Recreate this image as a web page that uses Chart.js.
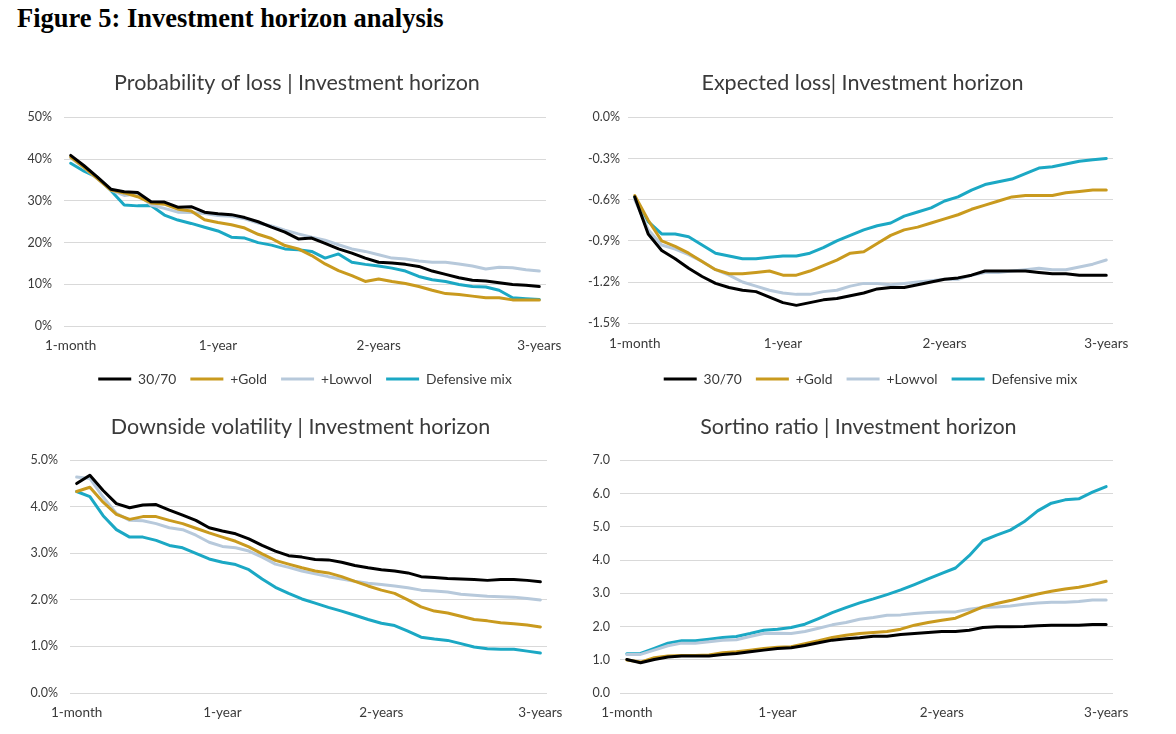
<!DOCTYPE html>
<html>
<head>
<meta charset="utf-8">
<script src="https://cdn.jsdelivr.net/npm/chart.js@4.4.1/dist/chart.umd.min.js"></script>
<style>
    body { margin: 0; background: #fff; width: 1176px; height: 734px; overflow: hidden; position: relative; }
    h1 { position: absolute; left: 17px; top: 5px; margin: 0; font: bold 26.5px/26px "Liberation Serif", "DejaVu Serif", serif; color: #000; }
    canvas { position: absolute; }
</style>
</head>
<body>
<h1>Figure 5: Investment horizon analysis</h1>
<canvas id="probLoss" width="575" height="340" style="left:0;top:60px"></canvas>
<canvas id="expLoss" width="590" height="340" style="left:575px;top:60px"></canvas>
<canvas id="downVol" width="575" height="334" style="left:0;top:400px"></canvas>
<canvas id="sortino" width="590" height="334" style="left:575px;top:400px"></canvas>
<script>
/* horizon in months, only four of them get a tick label */
const months = [1, 2, 3, 4, 5, 6, 7, 8, 9, 10, 11, 12, 13, 14, 15, 16, 17, 18,
    19, 20, 21, 22, 23, 24, 25, 26, 27, 28, 29, 30, 31, 32, 33, 34, 35, 36];
const tickMonths = [1, 12, 24, 36];
const tickLabels = ['1-month', '1-year', '2-years', '3-years'];

const seriesNames = ['30/70', '+Gold', '+Lowvol', 'Defensive mix'];
const seriesColors = ['#000000', '#C99A1E', '#B7C9DB', '#1BA8C4'];

/* probability of loss, % */
const probLoss3070 = [40.9, 38.4, 35.7, 32.8, 32.2, 32.0, 29.8, 29.7, 28.5, 28.6, 27.3, 26.9, 26.7, 26.0, 25.0, 23.7, 22.5, 20.9,
    21.1, 19.8, 18.5, 17.5, 16.3, 15.3, 15.1, 14.8, 14.3, 13.2, 12.4, 11.6, 11.0, 10.8, 10.4, 10.0, 9.8, 9.5];
const probLossGold = [40.5, 38.0, 35.3, 32.6, 31.9, 31.0, 29.5, 29.2, 28.0, 27.6, 25.5, 24.8, 24.3, 23.5, 22.0, 21.0, 19.3, 18.5,
    16.9, 14.9, 13.3, 12.1, 10.7, 11.3, 10.7, 10.2, 9.5, 8.6, 7.8, 7.6, 7.2, 6.8, 6.8, 6.3, 6.3, 6.3];
const probLossLowvol = [40.3, 37.9, 35.3, 32.6, 31.3, 31.7, 29.0, 28.2, 27.3, 27.2, 27.0, 26.5, 26.3, 25.7, 24.7, 24.0, 23.0, 22.1,
    21.3, 20.6, 19.5, 18.5, 17.9, 17.1, 16.3, 16.1, 15.6, 15.3, 15.3, 14.9, 14.4, 13.7, 14.1, 14.0, 13.5, 13.2];
const probLossDef = [39.0, 37.1, 35.6, 32.5, 29.0, 28.8, 28.9, 26.6, 25.4, 24.6, 23.7, 22.8, 21.3, 21.1, 20.0, 19.4, 18.5, 18.3,
    17.9, 16.3, 17.3, 15.3, 14.8, 14.4, 13.9, 13.2, 11.9, 11.1, 10.7, 10.0, 9.5, 9.4, 8.6, 6.8, 6.6, 6.4];

/* expected loss, % */
const expLoss3070 = [-0.58, -0.85, -0.97, -1.03, -1.10, -1.16, -1.21, -1.24, -1.26, -1.27, -1.31, -1.35, -1.37, -1.35, -1.33, -1.32, -1.30, -1.28,
    -1.25, -1.24, -1.24, -1.22, -1.20, -1.18, -1.17, -1.15, -1.12, -1.12, -1.12, -1.12, -1.13, -1.14, -1.14, -1.15, -1.15, -1.15];
const expLossGold = [-0.57, -0.75, -0.90, -0.94, -0.99, -1.05, -1.11, -1.14, -1.14, -1.13, -1.12, -1.15, -1.15, -1.12, -1.08, -1.04, -0.99, -0.98,
    -0.92, -0.86, -0.82, -0.80, -0.77, -0.74, -0.71, -0.67, -0.64, -0.61, -0.58, -0.57, -0.57, -0.57, -0.55, -0.54, -0.53, -0.53];
const expLossLowvol = [-0.60, -0.82, -0.93, -0.96, -1.00, -1.05, -1.11, -1.15, -1.20, -1.23, -1.26, -1.28, -1.29, -1.29, -1.27, -1.26, -1.23, -1.21,
    -1.21, -1.22, -1.21, -1.20, -1.19, -1.18, -1.18, -1.15, -1.13, -1.13, -1.12, -1.11, -1.10, -1.11, -1.11, -1.09, -1.07, -1.04];
const expLossDef = [-0.58, -0.76, -0.85, -0.85, -0.87, -0.93, -0.99, -1.01, -1.03, -1.03, -1.02, -1.01, -1.01, -0.99, -0.95, -0.90, -0.86, -0.82,
    -0.79, -0.77, -0.72, -0.69, -0.66, -0.61, -0.58, -0.53, -0.49, -0.47, -0.45, -0.41, -0.37, -0.36, -0.34, -0.32, -0.31, -0.30];

/* downside volatility, % */
const downVol3070 = [4.50, 4.68, 4.35, 4.07, 3.98, 4.04, 4.05, 3.93, 3.82, 3.71, 3.55, 3.48, 3.42, 3.31, 3.17, 3.05, 2.95, 2.92,
    2.87, 2.86, 2.81, 2.74, 2.69, 2.65, 2.62, 2.58, 2.50, 2.48, 2.46, 2.45, 2.44, 2.42, 2.44, 2.44, 2.42, 2.39];
const downVolGold = [4.33, 4.42, 4.10, 3.84, 3.73, 3.79, 3.79, 3.71, 3.64, 3.54, 3.44, 3.35, 3.26, 3.14, 2.99, 2.85, 2.77, 2.69,
    2.62, 2.58, 2.50, 2.40, 2.30, 2.21, 2.14, 2.00, 1.85, 1.76, 1.72, 1.65, 1.58, 1.55, 1.51, 1.49, 1.46, 1.42];
const downVolLowvol = [4.64, 4.61, 4.21, 3.86, 3.71, 3.70, 3.64, 3.55, 3.51, 3.39, 3.24, 3.15, 3.12, 3.05, 2.92, 2.77, 2.70, 2.62,
    2.56, 2.50, 2.45, 2.40, 2.36, 2.33, 2.30, 2.26, 2.21, 2.19, 2.17, 2.12, 2.10, 2.08, 2.07, 2.06, 2.03, 2.00];
const downVolDef = [4.33, 4.22, 3.81, 3.51, 3.35, 3.35, 3.28, 3.17, 3.12, 3.00, 2.88, 2.81, 2.76, 2.65, 2.45, 2.27, 2.14, 2.02,
    1.93, 1.84, 1.76, 1.67, 1.58, 1.50, 1.45, 1.33, 1.20, 1.16, 1.13, 1.06, 0.99, 0.95, 0.94, 0.94, 0.90, 0.86];

/* sortino ratio */
const sortino3070 = [1.01, 0.91, 1.01, 1.08, 1.11, 1.11, 1.11, 1.16, 1.19, 1.24, 1.29, 1.34, 1.36, 1.43, 1.51, 1.59, 1.63, 1.66,
    1.71, 1.71, 1.76, 1.79, 1.82, 1.85, 1.85, 1.89, 1.97, 1.99, 1.99, 2.00, 2.02, 2.04, 2.04, 2.04, 2.06, 2.06];
const sortinoGold = [0.99, 0.93, 1.06, 1.11, 1.13, 1.13, 1.14, 1.21, 1.24, 1.29, 1.34, 1.38, 1.39, 1.48, 1.57, 1.67, 1.74, 1.79,
    1.82, 1.85, 1.92, 2.04, 2.12, 2.19, 2.25, 2.42, 2.59, 2.69, 2.78, 2.88, 2.98, 3.06, 3.13, 3.18, 3.26, 3.36];
const sortinoLowvol = [1.16, 1.16, 1.29, 1.42, 1.50, 1.50, 1.54, 1.59, 1.60, 1.70, 1.79, 1.80, 1.79, 1.85, 1.95, 2.05, 2.12, 2.22,
    2.27, 2.34, 2.35, 2.39, 2.42, 2.44, 2.44, 2.52, 2.57, 2.59, 2.62, 2.67, 2.71, 2.73, 2.73, 2.75, 2.80, 2.80];
const sortinoDef = [1.18, 1.19, 1.34, 1.50, 1.57, 1.57, 1.62, 1.67, 1.70, 1.79, 1.89, 1.92, 1.97, 2.07, 2.24, 2.42, 2.57, 2.71,
    2.83, 2.96, 3.10, 3.26, 3.43, 3.60, 3.76, 4.13, 4.58, 4.75, 4.90, 5.15, 5.48, 5.71, 5.81, 5.84, 6.04, 6.21];

const fontFamily = 'Lato, "Open Sans", sans-serif';

function makeDatasets(values) {
    return values.map(function (data, i) {
        return {
            label: seriesNames[i],
            data: data,
            borderColor: seriesColors[i],
            backgroundColor: seriesColors[i],
            borderWidth: 3,
            borderCapStyle: 'round',
            borderJoinStyle: 'round',
            pointRadius: 0,
            tension: 0
        };
    });
}

function drawPanel(id, opts) {
    var ctx = document.getElementById(id).getContext('2d');
    return new Chart(ctx, {
        type: 'line',
        data: {
            labels: months,
            datasets: makeDatasets(opts.values)
        },
        options: {
            responsive: false,
            animation: false,
            layout: { padding: opts.padding },
            plugins: {
                title: {
                    display: true,
                    fullSize: false,
                    /* trailing em space nudges the centred title a bit to the left */
                    text: opts.title + '\u2003',
                    color: '#3a3a3a',
                    font: { family: fontFamily, size: 21.5, weight: 'normal' },
                    padding: opts.titlePadding
                },
                legend: {
                    display: opts.legend,
                    fullSize: false,
                    position: 'bottom',
                    labels: {
                        usePointStyle: true,
                        pointStyle: 'line',
                        pointStyleWidth: 33,
                        boxHeight: 4,
                        padding: 14,
                        color: '#3a3a3a',
                        font: { family: fontFamily, size: 13.8 }
                    }
                },
                tooltip: { enabled: false }
            },
            scales: {
                x: {
                    offset: true,
                    grid: { display: false, drawTicks: false },
                    border: { display: false },
                    ticks: {
                        autoSkip: false,
                        maxRotation: 0,
                        padding: opts.xPad,
                        color: '#3a3a3a',
                        font: { family: fontFamily, size: 13.5 },
                        callback: function (value, index) {
                            var k = tickMonths.indexOf(months[index]);
                            return k >= 0 ? tickLabels[k] : null;
                        }
                    },
                    afterFit: function (scale) { scale.height = opts.xHeight; }
                },
                y: {
                    min: opts.min,
                    max: opts.max,
                    grid: { color: '#d9d9d9', lineWidth: 1, drawTicks: false },
                    border: { display: false },
                    ticks: {
                        stepSize: opts.step,
                        padding: opts.yPad,
                        color: '#3a3a3a',
                        font: { family: fontFamily, size: 12.5 },
                        callback: opts.format
                    },
                    afterFit: function (scale) { scale.width = opts.yWidth; }
                }
            }
        }
    });
}

drawPanel('probLoss', {
    title: 'Probability of loss | Investment horizon',
    values: [probLoss3070, probLossGold, probLossLowvol, probLossDef],
    min: 0, max: 50, step: 10,
    format: function (v) { return Math.round(v) + '%'; },
    legend: true,
    padding: { left: 0, right: 29, top: 0, bottom: 4 },
    titlePadding: { top: 10.5, bottom: 21 },
    yWidth: 64, yPad: 12, xPad: 11, xHeight: 32
});

drawPanel('expLoss', {
    title: 'Expected loss| Investment horizon',
    values: [expLoss3070, expLossGold, expLossLowvol, expLossDef],
    min: -1.5, max: 0, step: 0.3,
    format: function (v) { return (Math.round(v * 10) / 10).toFixed(1) + '%'; },
    legend: true,
    padding: { left: 0, right: 52, top: 0, bottom: 4 },
    titlePadding: { top: 10.5, bottom: 21 },
    yWidth: 53, yPad: 8, xPad: 12, xHeight: 35
});

drawPanel('downVol', {
    title: 'Downside volatility | Investment horizon',
    values: [downVol3070, downVolGold, downVolLowvol, downVolDef],
    min: 0, max: 5, step: 1,
    format: function (v) { return v.toFixed(1) + '%'; },
    legend: false,
    padding: { left: 0, right: 28, top: 0, bottom: 0 },
    titlePadding: { top: 14.5, bottom: 20 },
    yWidth: 70, yPad: 12, xPad: 12, xHeight: 41
});

drawPanel('sortino', {
    title: 'Sortino ratio | Investment horizon',
    values: [sortino3070, sortinoGold, sortinoLowvol, sortinoDef],
    min: 0, max: 7, step: 1,
    format: function (v) { return v.toFixed(1); },
    legend: false,
    padding: { left: 0, right: 52, top: 0, bottom: 0 },
    titlePadding: { top: 14.5, bottom: 20 },
    yWidth: 45, yPad: 10, xPad: 12, xHeight: 41
});
</script>
</body>
</html>
